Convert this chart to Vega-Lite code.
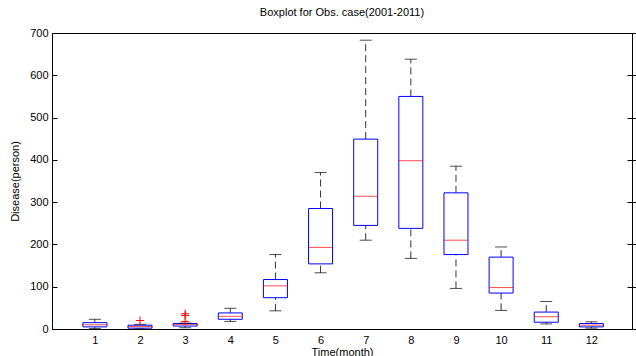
{
  "$schema": "https://vega.github.io/schema/vega-lite/v6.json",
  "width": 580,
  "height": 296,
  "autosize": {"type": "none"},
  "padding": {"left": 52, "top": 33, "right": 4, "bottom": 27},
  "background": "white",
  "title": {"text": "Boxplot for Obs. case(2001-2011)", "font": "Liberation Sans", "fontSize": 11, "fontWeight": "normal", "color": "black", "offset": 9},
  "config": {
    "view": {"stroke": "black", "strokeWidth": 1},
    "scale": {"continuousPadding": 0},
    "axis": {"labelFont": "Liberation Sans", "labelFontSize": 11, "labelColor": "black", "titleFont": "Liberation Sans", "titleFontSize": 11, "titleFontWeight": "normal", "titleColor": "black", "domainColor": "black", "tickColor": "black", "grid": false}
  },
  "datasets": {
    "stats": [
      {"month": 1, "lo": 1, "q1": 5, "med": 10, "q3": 15, "hi": 23},
      {"month": 2, "lo": 0, "q1": 2, "med": 6, "q3": 9, "hi": 11},
      {"month": 3, "lo": 3, "q1": 7, "med": 11, "q3": 13, "hi": 14},
      {"month": 4, "lo": 18, "q1": 23, "med": 30, "q3": 38, "hi": 49},
      {"month": 5, "lo": 43, "q1": 74, "med": 102, "q3": 117, "hi": 176},
      {"month": 6, "lo": 133, "q1": 154, "med": 193, "q3": 285, "hi": 370},
      {"month": 7, "lo": 210, "q1": 245, "med": 314, "q3": 449, "hi": 683},
      {"month": 8, "lo": 167, "q1": 238, "med": 398, "q3": 550, "hi": 638},
      {"month": 9, "lo": 96, "q1": 176, "med": 210, "q3": 322, "hi": 385},
      {"month": 10, "lo": 44, "q1": 85, "med": 98, "q3": 170, "hi": 194},
      {"month": 11, "lo": 12, "q1": 16, "med": 29, "q3": 40, "hi": 65},
      {"month": 12, "lo": 2, "q1": 5, "med": 9, "q3": 13, "hi": 17}
    ],
    "outliers": [
      {"month": 2, "value": 20},
      {"month": 3, "value": 36},
      {"month": 3, "value": 32},
      {"month": 3, "value": 18}
    ]
  },
  "data": {"name": "stats"},
  "encoding": {
    "x": {"field": "month", "type": "quantitative", "scale": {"domain": [0.05, 12.9], "nice": false, "zero": false, "padding": 0},
      "axis": {"values": [1,2,3,4,5,6,7,8,9,10,11,12], "ticks": false, "labelPadding": 5, "title": "Time(month)", "titlePadding": 1, "labelFlush": false}}
  },
  "layer": [
    {
      "mark": {"type": "rule", "color": "#333333", "strokeDash": [7, 4], "strokeWidth": 1},
      "encoding": {
        "y": {"field": "lo", "type": "quantitative", "scale": {"domain": [0, 700], "nice": false, "padding": 0},
          "axis": {"orient": "left", "values": [0,100,200,300,400,500,600,700], "tickSize": -5, "labelPadding": 9, "title": "Disease(person)", "titlePadding": 9}},
        "y2": {"field": "q1"}
      }
    },
    {
      "mark": {"type": "rule", "color": "#333333", "strokeDash": [7, 4], "strokeWidth": 1},
      "encoding": {
        "y": {"field": "q3", "type": "quantitative"},
        "y2": {"field": "hi"}
      }
    },
    {
      "mark": {"type": "bar", "width": 24, "fill": "white", "stroke": "#0000FF", "strokeWidth": 1},
      "encoding": {
        "y": {"field": "q1", "type": "quantitative"},
        "y2": {"field": "q3"}
      }
    },
    {
      "mark": {"type": "tick", "orient": "horizontal", "size": 12, "thickness": 1, "color": "black"},
      "encoding": {
        "y": {"field": "lo", "type": "quantitative"}
      }
    },
    {
      "mark": {"type": "tick", "orient": "horizontal", "size": 12, "thickness": 1, "color": "black"},
      "encoding": {
        "y": {"field": "hi", "type": "quantitative",
          "axis": {"orient": "right", "values": [0,100,200,300,400,500,600,700], "tickSize": -5, "labels": false, "title": null, "domain": true}}
      }
    },
    {
      "mark": {"type": "tick", "orient": "horizontal", "size": 24, "thickness": 1, "color": "#FF0000"},
      "encoding": {
        "y": {"field": "med", "type": "quantitative"}
      }
    },
    {
      "data": {"name": "outliers"},
      "mark": {"type": "point", "shape": "M-1,0L1,0M0,-1L0,1", "filled": false, "color": "#FF0000", "size": 64, "strokeWidth": 1, "opacity": 1},
      "encoding": {
        "y": {"field": "value", "type": "quantitative"}
      }
    }
  ],
  "resolve": {"axis": {"y": "independent"}}
}
